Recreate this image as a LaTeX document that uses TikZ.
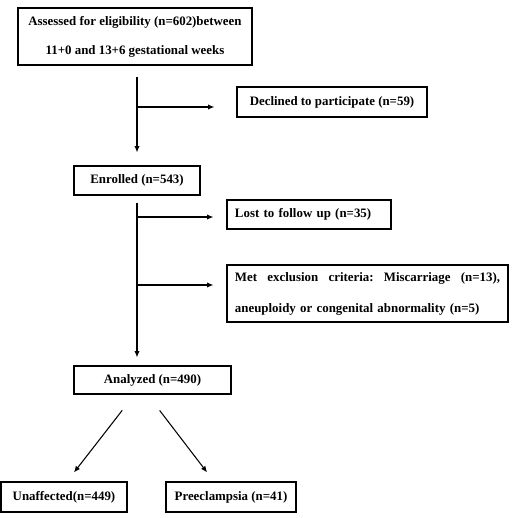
\documentclass[tikz,border=0pt]{standalone}
\usepackage{fontspec}
\setmainfont{Liberation Serif}
\usepackage{tikz}
\usetikzlibrary{shapes, arrows, arrows.meta, positioning, calc}

\begin{document}
\begin{tikzpicture}[x=0.03cm, y=-0.03cm, >={Latex[length=1.9mm, width=1.6mm]}, line width=0.9pt,
    box/.style={draw, line width=1pt, rectangle, inner sep=0pt, align=center,
      font=\bfseries\fontsize{11}{13.2}\selectfont}]
      \useasboundingbox (0,0) rectangle (518,518);

      \node[box, minimum width=7.02cm, minimum height=1.71cm] at (135,36.5) (assess) {Assessed for eligibility (n=602)between\\[11.5pt] 11+0 and 13+6 gestational weeks};
      \node[box, minimum width=5.7cm, minimum height=0.9cm] at (332,102) (declined) {Declined to participate (n=59)};
      \node[box, minimum width=3.78cm, minimum height=0.87cm] at (137,180.5) (enrolled) {Enrolled (n=543)};
      \node[box, align=left, text width=4.44cm, inner xsep=0.24cm, minimum height=0.87cm] at (309,214.5) (lost) {Lost to follow up (n=35)};
      \node[box, align=left, text width=7.95cm, inner xsep=0.24cm, minimum height=1.71cm] at (367.5,293.5) (met) {Met\hfill exclusion\hfill criteria:\hfill Miscarriage\hfill (n=13),\\[13.3pt] aneuploidy or congenital abnormality (n=5)};
      \node[box, minimum width=4.71cm, minimum height=0.84cm] at (152.5,380) (analyzed) {Analyzed (n=490)};
      \node[box, minimum width=3.78cm, minimum height=0.9cm] at (64,497) (unaffected) {Unaffected(n=449)};
      \node[box, minimum width=3.9cm, minimum height=0.9cm] at (231,497) (preec) {Preeclampsia (n=41)};

      \coordinate (b1) at (137,107);
      \coordinate (b2) at (137,217);
      \coordinate (b3) at (137,285);

      \draw[->, shorten <=0.33cm, shorten >=0.39cm] (enrolled |- assess.south) -- (enrolled.north);
      \draw[->, shorten >=0.66cm] (b1) -- (b1 -| declined.west);

      \draw[->, shorten <=0.21cm, shorten >=0.24cm] (enrolled.south) -- (enrolled.south |- analyzed.north);
      \draw[->, shorten >=0.39cm] (b2) -- (b2 -| lost.west);
      \draw[->, shorten >=0.39cm] (b3) -- (b3 -| met.west);

      \draw[->, shorten <=0.6cm, shorten >=0.34cm] ([xshift=-0.54cm]analyzed.south) -- ([xshift=0.09cm]unaffected.north);
      \draw[->, shorten <=0.6cm, shorten >=0.34cm] ([xshift=-0.15cm]analyzed.south) -- ([xshift=-0.51cm]preec.north);
    \end{tikzpicture}
\end{document}
